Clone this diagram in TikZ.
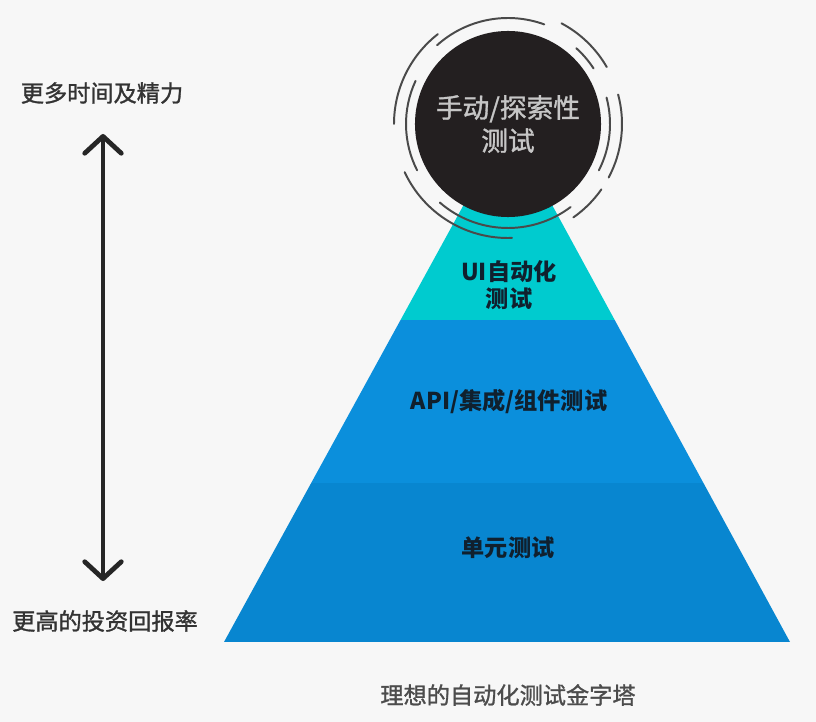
\documentclass[tikz,border=0pt]{standalone}
\usepackage{fontspec}
\setmainfont{Noto Sans CJK SC}
\newfontfamily\mediumfont[FakeBold=1.2]{Noto Sans CJK SC}
\usetikzlibrary{arrows.meta}

\definecolor{bgGray}{HTML}{F7F7F7}
\definecolor{uiCyan}{HTML}{00CBCF}
\definecolor{apiBlue}{HTML}{0B8FDC}
\definecolor{unitBlue}{HTML}{0886D0}
\definecolor{exploreBlack}{HTML}{231F20}
\definecolor{ringGray}{HTML}{4A4A4A}
\definecolor{labelDark}{HTML}{333333}
\definecolor{layerText}{HTML}{10202E}

\tikzset{
  sidelabel/.style={text=labelDark, font=\fontsize{16.5}{20}\selectfont\mediumfont},
  layerlabel/.style={text=layerText, align=center,
    font=\fontsize{16.5}{19.5}\selectfont\bfseries},
  ring/.style={draw=ringGray, line width=1.4pt, line cap=round},
}

\begin{document}
\begin{tikzpicture}[x=0.025cm, y=-0.025cm]
    % Background
    \fill[bgGray] (0, 0) rectangle (816, 722);

    % Pyramid
    \begin{scope}
      \clip (508, 124) -- (790, 642) -- (224, 642) -- cycle;
      \fill[uiCyan] (200, 100) rectangle (820, 320);
      \fill[apiBlue] (200, 320) rectangle (820, 483);
      \fill[unitBlue] (200, 483) rectangle (820, 642);
    \end{scope}

    % Top circle
    \node[circle, fill=exploreBlack, minimum size=4.65cm, inner sep=0pt,
      text=gray!45, align=center, font=\fontsize{19}{23.5}\selectfont\mediumfont]
      (explore) at (508, 124) {手动/探索性\\测试};

    % Broken rings round the circle (radius/start/end)
    \foreach \r/\a/\b in {114/-128/-180, 114/-205/-272, 114/-30/-62,
                          114/28/-15, 114/55/35,
                          102/-155/-207, 104/-229/-307, 106/-70/-132,
                          102/27/-15, 102/-33/-48}
      \draw[ring] (explore.center) ++(\a:\r) arc[start angle=\a, end angle=\b, radius=\r];

    % Layer labels
    \node[layerlabel] (ui) at (509, 285) {UI自动化\\测试};
    \node[layerlabel] (api) at (509, 402) {API/集成/组件测试};
    \node[layerlabel] (unit) at (508, 548) {单元测试};

    % Time / return arrow
    \node[sidelabel] (time) at (102, 93) {更多时间及精力};
    \node[sidelabel] (return) at (105, 621) {更高的投资回报率};
    \coordinate (top) at (103, 134);
    \coordinate (bottom) at (103, 581);
    \draw[{Straight Barb[round, length=12pt, width=26pt]}-{Straight Barb[round, length=12pt, width=26pt]},
      line width=3.4pt, draw=black!85] (top) -- (bottom);

    % Caption
    \node[sidelabel, text=black!70] (caption) at (508, 695) {理想的自动化测试金字塔};
  \end{tikzpicture}
\end{document}
